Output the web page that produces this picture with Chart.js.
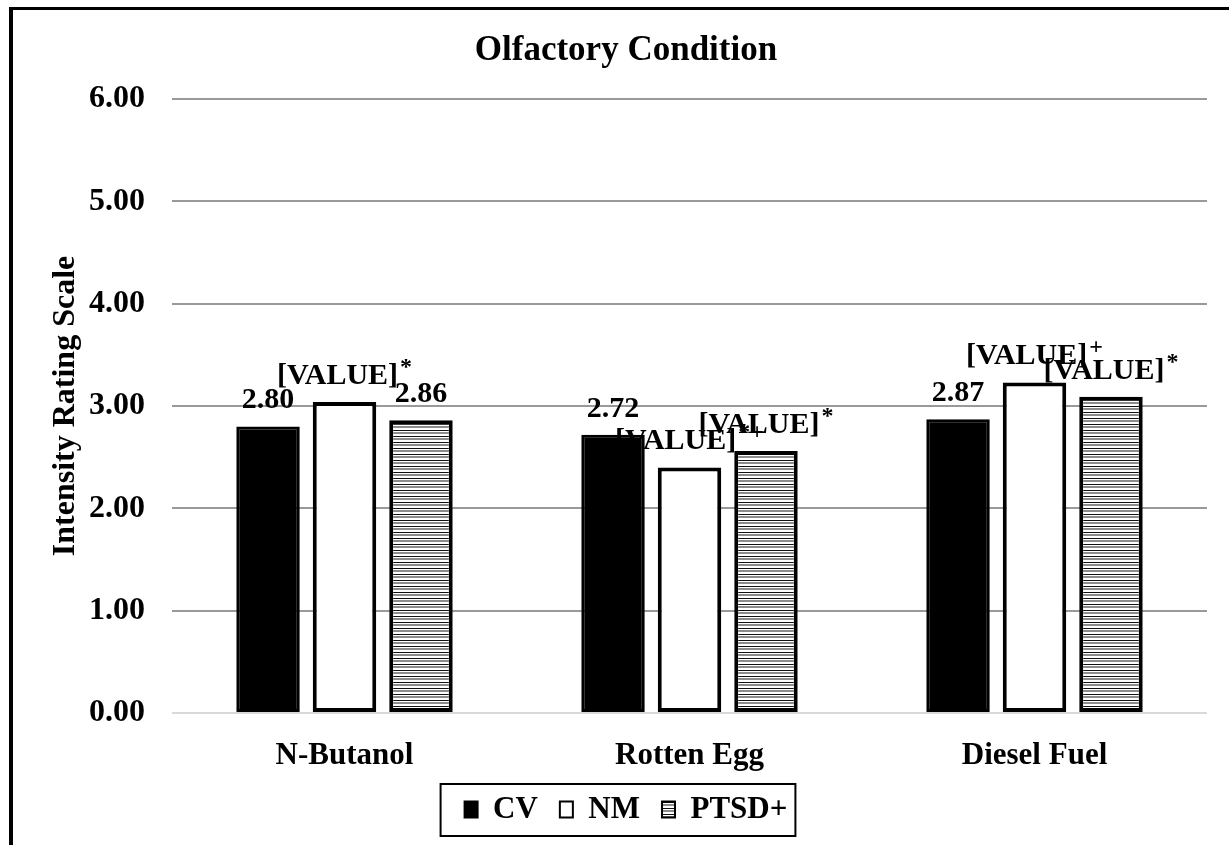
<!DOCTYPE html>
<html>
<head>
<meta charset="utf-8">
<script src="https://cdn.jsdelivr.net/npm/chart.js@4.4.1/dist/chart.umd.min.js"></script>
<style>
  html, body { margin: 0; padding: 0; background: #fff; }
  body { width: 1229px; height: 845px; position: relative; overflow: hidden; }
  #frame {
    position: absolute; left: 9px; top: 7px; right: 0; bottom: 0;
    border-left: 4px solid #000; border-top: 3px solid #000;
  }
  #wrap { position: absolute; left: 0; top: 0; width: 1216px; height: 835px; }
</style>
</head>
<body>
<div id="frame"><div id="wrap"><canvas id="chart"></canvas></div></div>
<script>
const categories = ["N-Butanol", "Rotten Egg", "Diesel Fuel"];
const seriesNames = ["CV", "NM", "PTSD+"];
const cvValues = [2.80, 2.72, 2.87];
const nmValues = [3.04, 2.40, 3.23];
const ptsdValues = [2.86, 2.56, 3.09];
// texte des etiquettes (comme dans l'original)
const cvLabels = ["2.80", "2.72", "2.87"];
const nmLabels = ["[VALUE]", "[VALUE]", "[VALUE]"];
const nmMarks = ["*", "*+", "+"];
const ptsdLabels = ["2.86", "[VALUE]", "[VALUE]"];
const ptsdMarks = ["", "*", "*"];
const yMin = 0, yMax = 6, yStep = 1;

const serif = "'Liberation Serif', 'Times New Roman', serif";

// motif rayé horizontal
function stripes() {
  const c = document.createElement("canvas");
  c.width = 4; c.height = 6;
  const g = c.getContext("2d");
  const rows = ["#111", "#fff", "#8c8c8c", "#8c8c8c", "#fff", "#fff"];
  rows.forEach((col, i) => { g.fillStyle = col; g.fillRect(0, i, 4, 1); });
  return g.createPattern(c, "repeat");
}

const valueLabels = {
  id: "valueLabels",
  afterDatasetsDraw(chart) {
    const ctx = chart.ctx;
    const texts = [cvLabels, nmLabels, ptsdLabels];
    const marks = [["", "", ""], nmMarks, ptsdMarks];
    ctx.save();
    ctx.fillStyle = "#000";
    ctx.textBaseline = "alphabetic";
    chart.data.datasets.forEach((ds, di) => {
      chart.getDatasetMeta(di).data.forEach((bar, i) => {
        const main = texts[di][i];
        const sup = marks[di][i];
        ctx.font = "bold 30px " + serif;
        const wm = ctx.measureText(main).width;
        ctx.font = "bold 24px " + serif;
        const ws = sup ? ctx.measureText(sup).width + 2 : 0;
        const x0 = bar.x - (wm + ws) / 2;
        const y = bar.y - 18;
        ctx.textAlign = "left";
        ctx.font = "bold 30px " + serif;
        ctx.fillText(main, x0, y);
        if (sup) {
          ctx.font = "bold 24px " + serif;
          ctx.fillText(sup, x0 + wm + 2, y - 10);
        }
      });
    });
    ctx.restore();
  }
};

const legendBox = {
  id: "legendBox",
  afterDraw(chart) {
    const boxes = chart.legend.legendHitBoxes;
    if (!boxes || !boxes.length) return;
    let l = Infinity, r = -Infinity, t = Infinity, b = -Infinity;
    boxes.forEach(h => {
      l = Math.min(l, h.left); r = Math.max(r, h.left + h.width);
      t = Math.min(t, h.top); b = Math.max(b, h.top + h.height);
    });
    const ctx = chart.ctx;
    ctx.save();
    ctx.strokeStyle = "#000";
    ctx.lineWidth = 2;
    ctx.strokeRect(l - 24, t - 10, (r - l) + 32, (b - t) + 21);
    ctx.restore();
  }
};

const ctx = document.getElementById("chart").getContext("2d");
new Chart(ctx, {
  type: "bar",
  data: {
    labels: categories,
    datasets: [
      { label: seriesNames[0], data: cvValues, backgroundColor: "#000", borderColor: "#000", borderWidth: 3 },
      { label: seriesNames[1], data: nmValues, backgroundColor: "#fff", borderColor: "#000", borderWidth: 4 },
      { label: seriesNames[2], data: ptsdValues, backgroundColor: stripes(), borderColor: "#000", borderWidth: 4 }
    ]
  },
  options: {
    responsive: true,
    maintainAspectRatio: false,
    animation: false,
    layout: { padding: { left: 32, right: 22, top: 0, bottom: 10 } },
    datasets: {
      bar: { categoryPercentage: 0.665, barPercentage: 0.83, borderSkipped: false }
    },
    scales: {
      x: {
        afterFit(scale) { scale.height = 59; },
        grid: { display: false, drawTicks: false },
        border: { display: false },
        ticks: { color: "#000", padding: 24, font: { family: serif, size: 31, weight: "bold" } }
      },
      y: {
        min: yMin, max: yMax,
        afterFit(scale) { scale.width = 127; },
        ticks: {
          stepSize: yStep, color: "#000", padding: 27,
          font: { family: serif, size: 32, weight: "bold" },
          callback: v => Number(v).toFixed(2)
        },
        grid: {
          drawTicks: false, lineWidth: 2,
          color: c => (c.tick && c.tick.value === 0 ? "#d9d9d9" : "#999")
        },
        border: { display: false },
        title: {
          display: true, text: "Intensity Rating Scale", color: "#000",
          padding: { top: 2, bottom: 0 },
          font: { family: serif, size: 32, weight: "bold" }
        }
      }
    },
    plugins: {
      title: {
        display: true, text: "Olfactory Condition", color: "#000",
        padding: { top: 20, bottom: 27 },
        font: { family: serif, size: 35, weight: "bold" }
      },
      legend: {
        position: "bottom",
        labels: {
          color: "#000", boxWidth: 13, boxHeight: 16, padding: 22,
          font: { family: serif, size: 31, weight: "bold" },
          generateLabels(chart) {
            const items = Chart.defaults.plugins.legend.labels.generateLabels(chart);
            items.forEach(it => { it.lineWidth = 2; });
            return items;
          }
        }
      },
      tooltip: { enabled: false }
    }
  },
  plugins: [valueLabels, legendBox]
});
</script>
</body>
</html>
